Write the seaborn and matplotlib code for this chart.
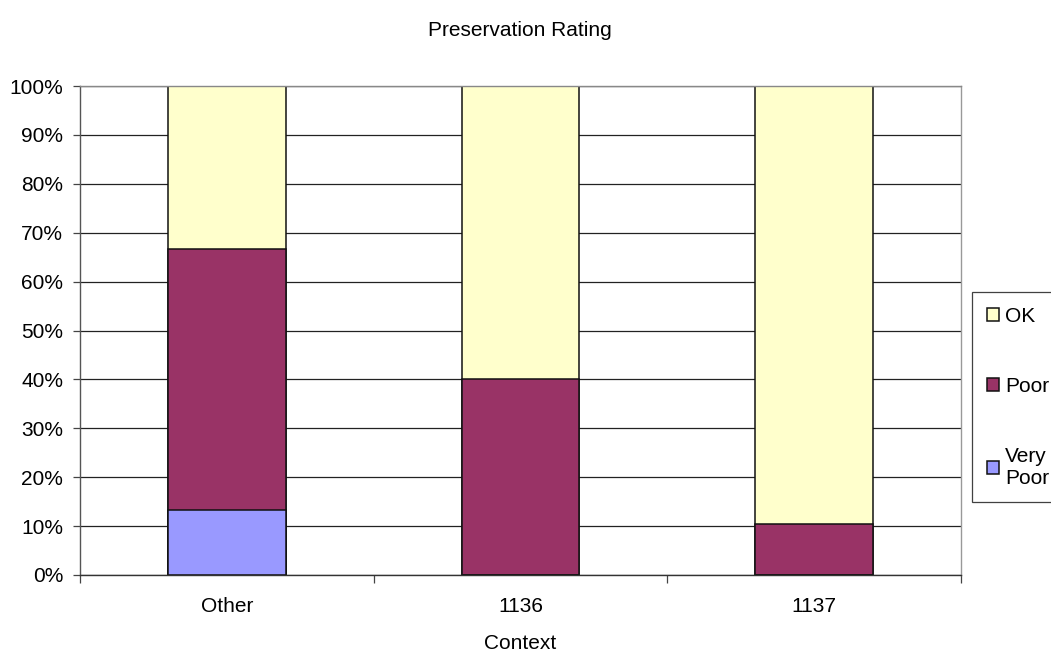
import matplotlib
matplotlib.use("Agg")
import matplotlib.pyplot as plt
import seaborn as sns
import pandas as pd
import numpy as np

# Share of items in each preservation class, by context (percent)
contexts = ["Other", "1136", "1137"]
very_poor = [13.33, 0.0, 0.0]
poor = [53.33, 40.0, 10.53]
ok = [33.33, 60.0, 89.47]

colors = {"OK": "#FFFFCC", "Poor": "#993366", "Very\nPoor": "#9999FF"}

sns.set_style("white")
plt.rcParams["font.family"] = ["Liberation Sans", "DejaVu Sans"]
plt.rcParams["text.color"] = "black"
plt.rcParams["axes.labelcolor"] = "black"
plt.rcParams["xtick.color"] = "black"
plt.rcParams["ytick.color"] = "black"

FS = 15

df = pd.DataFrame({"context": contexts, "very_poor": very_poor, "poor": poor, "ok": ok})
df["cum_vp"] = df["very_poor"]
df["cum_poor"] = df["very_poor"] + df["poor"]
df["cum_ok"] = df["cum_poor"] + df["ok"]

fig = plt.figure(figsize=(10.51, 6.52), dpi=100)
ax = fig.add_axes([80 / 1051, 1 - 575 / 652, (961 - 80) / 1051, (575 - 86) / 652])

ax.set_axisbelow(True)
ax.yaxis.grid(True, color="#222222", linewidth=0.9)

# Stacked bars drawn as cumulative totals, tallest first
for col, name in [("cum_ok", "OK"), ("cum_poor", "Poor"), ("cum_vp", "Very\nPoor")]:
    sns.barplot(data=df, x="context", y=col, order=contexts, color=colors[name],
                width=0.4, edgecolor="#111111", linewidth=1.1, saturation=1,
                ax=ax, label=name)

ax.set_ylim(0, 100)
ax.set_xlim(-0.5, 2.5)
ax.set_yticks(np.arange(0, 101, 10))
ax.set_yticklabels([f"{v}%" for v in range(0, 101, 10)], fontsize=FS)
ax.tick_params(axis="y", direction="out", length=5, width=0.9, color="#444444", pad=7, left=True)

# Category separators as major ticks, names on minor ticks
ax.set_xticks([-0.5, 0.5, 1.5, 2.5])
ax.set_xticklabels([])
ax.set_xticks([0, 1, 2], minor=True)
ax.set_xticklabels(contexts, minor=True, fontsize=FS)
ax.tick_params(axis="x", which="major", direction="out", length=6, width=0.9, color="#444444", bottom=True)
ax.tick_params(axis="x", which="minor", length=0, pad=16)

for side in ["left", "bottom", "right", "top"]:
    ax.spines[side].set_visible(True)
    ax.spines[side].set_linewidth(1.0)
ax.spines["left"].set_color("#555555")
ax.spines["bottom"].set_color("#333333")
ax.spines["right"].set_color("#999999")
ax.spines["top"].set_color("#888888")

ax.set_xlabel("Context", fontsize=FS, labelpad=13)
ax.set_ylabel("")
fig.text(0.495, 1 - 30 / 652, "Preservation Rating", ha="center", va="center", fontsize=FS)

if ax.get_legend() is not None:
    ax.get_legend().remove()
handles, labels = ax.get_legend_handles_labels()
leg = fig.legend(handles, labels, loc="upper left",
                 bbox_to_anchor=(972 / 1051, 1 - 292 / 652),
                 frameon=True, fancybox=False, edgecolor="#111111", fontsize=FS,
                 handlelength=0.6, handleheight=0.6, handletextpad=0.3,
                 labelspacing=2.45, borderpad=0.7, borderaxespad=0)
leg.get_frame().set_linewidth(0.9)

fig.savefig("out.png", dpi=100, facecolor="white")
